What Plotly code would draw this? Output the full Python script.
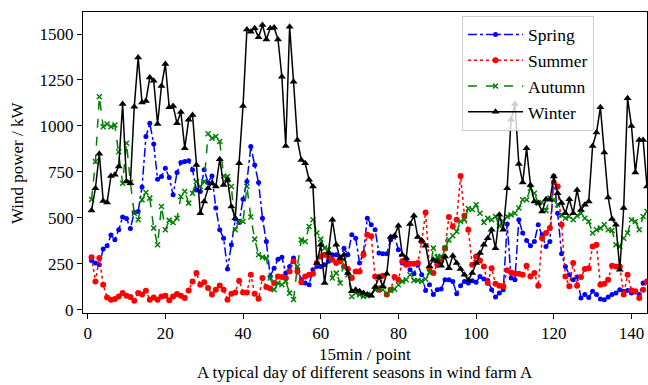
import plotly.graph_objects as go

points = list(range(1, 145))

spring = [268, 254, 245, 330, 348, 406, 380, 435, 504, 496, 442, 529, 534, 667, 942, 1014, 902, 710, 725, 770,
          719, 625, 746, 801, 806, 810, 761, 652, 643, 761, 692, 728, 553, 435, 389, 221, 353, 493, 475, 601,
          697, 888, 788, 692, 498, 371, 181, 226, 275, 286, 199, 235, 281, 221, 163, 145, 136, 217, 235, 235,
          245, 263, 299, 299, 281, 335, 299, 408, 389, 254, 308, 498, 462, 435, 308, 304, 304, 380, 399, 326,
          254, 268, 217, 196, 245, 190, 105, 136, 82, 109, 112, 163, 163, 154, 87, 130, 154, 145, 158, 149,
          181, 167, 159, 109, 69, 91, 109, 467, 172, 163, 489, 417, 377, 348, 371, 462, 408, 344, 371, 728,
          525, 304, 235, 190, 163, 178, 63, 82, 67, 100, 82, 58, 54, 69, 82, 91, 109, 100, 105, 91,
          96, 82, 145, 154]

summer = [286, 154, 281, 136, 67, 54, 58, 72, 91, 76, 69, 49, 91, 82, 103, 54, 67, 54, 72, 76,
          51, 72, 85, 76, 63, 105, 154, 199, 136, 149, 118, 82, 109, 132, 109, 54, 87, 94, 158, 94,
          94, 190, 87, 60, 172, 123, 116, 145, 180, 178, 172, 208, 263, 208, 149, 181, 190, 196, 254, 290,
          299, 290, 272, 254, 263, 235, 221, 172, 208, 208, 299, 408, 399, 181, 109, 185, 82, 109, 178, 163,
          263, 245, 250, 250, 254, 371, 529, 226, 199, 245, 263, 335, 504, 453, 489, 728, 511, 435, 245, 290,
          268, 235, 145, 226, 141, 130, 127, 214, 203, 196, 196, 190, 239, 181, 199, 130, 389, 417, 444, 692,
          670, 462, 181, 127, 254, 130, 178, 221, 226, 344, 353, 136, 141, 163, 239, 235, 235, 82, 190, 105,
          100, 63, 109, 154]

autumn = [600, 806, 1159, 996, 1011, 996, 1005, 860, 688, 906, 692, 525, 489, 598, 638, 607, 444, 353, 562, 435,
          486, 475, 498, 616, 643, 580, 634, 697, 670, 697, 957, 933, 942, 915, 728, 725, 670, 435, 480, 480,
          670, 504, 384, 299, 286, 281, 172, 109, 145, 136, 154, 90, 55, 235, 380, 371, 453, 489, 417, 384,
          335, 326, 172, 199, 145, 272, 190, 72, 91, 82, 72, 76, 82, 109, 118, 109, 87, 105, 112, 136,
          154, 163, 190, 159, 159, 154, 167, 203, 335, 286, 290, 335, 380, 402, 426, 480, 489, 550, 545, 571,
          525, 475, 498, 489, 507, 456, 480, 507, 516, 525, 553, 598, 598, 661, 634, 580, 583, 540, 607, 598,
          571, 516, 498, 507, 489, 511, 525, 498, 480, 417, 435, 444, 462, 435, 431, 353, 344, 389, 417, 489,
          480, 435, 507, 534]

winter = [540, 661, 848, 592, 583, 728, 734, 779, 1120, 697, 688, 1105, 1373, 1127, 1136, 1264, 1246, 1011, 1217, 1337,
          1101, 1109, 1014, 1076, 879, 1033, 1060, 788, 525, 589, 661, 688, 670, 819, 679, 707, 562, 498, 797, 1109,
          1525, 1513, 1531, 1482, 1549, 1471, 1531, 1536, 1471, 1268, 891, 1540, 1241, 924, 815, 797, 707, 670, 254, 353,
          145, 308, 489, 353, 281, 299, 199, 100, 109, 100, 91, 82, 76, 123, 178, 127, 196, 395, 402, 457,
          299, 281, 467, 511, 395, 377, 348, 236, 272, 263, 239, 290, 226, 293, 254, 221, 190, 160, 200, 254,
          308, 353, 389, 435, 335, 516, 435, 661, 1033, 1120, 793, 692, 879, 679, 589, 580, 534, 601, 598, 725,
          634, 580, 525, 601, 525, 652, 543, 571, 589, 891, 964, 1101, 855, 611, 493, 462, 217, 553, 1150, 1000,
          746, 924, 924, 670]

FONT = "Liberation Serif"

fig = go.Figure()
fig.add_trace(go.Scatter(x=points, y=spring, name="Spring", mode="lines+markers",
                         line=dict(color="#0000ff", width=1.5, dash="dashdot"),
                         marker=dict(symbol="circle", size=5, color="#0000ff")))
fig.add_trace(go.Scatter(x=points, y=summer, name="Summer", mode="lines+markers",
                         line=dict(color="#ff0000", width=1.5, dash="dot"),
                         marker=dict(symbol="circle", size=6, color="#ff0000")))
fig.add_trace(go.Scatter(x=points, y=autumn, name="Autumn", mode="lines+markers",
                         line=dict(color="#008000", width=1.5, dash="dash"),
                         marker=dict(symbol="x-thin", size=5, color="#008000",
                                     line=dict(color="#008000", width=1.5))))
fig.add_trace(go.Scatter(x=points, y=winter, name="Winter", mode="lines+markers",
                         line=dict(color="#000000", width=1.5),
                         marker=dict(symbol="triangle-up", size=7, color="#000000")))

axis_common = dict(showline=True, linecolor="black", linewidth=1, mirror=True,
                   ticks="outside", ticklen=5, tickcolor="black", showgrid=False,
                   zeroline=False, tickfont=dict(family=FONT, size=17, color="black"))

fig.update_layout(
    width=648, height=385,
    margin=dict(l=83, r=1, t=12, b=72),
    paper_bgcolor="white", plot_bgcolor="white",
    font=dict(family=FONT, size=17, color="black"),
    xaxis=dict(range=[-1.2, 144], tickvals=[0, 20, 40, 60, 80, 100, 120, 140], **axis_common),
    yaxis=dict(range=[-18, 1620], tickvals=[0, 250, 500, 750, 1000, 1250, 1500], **axis_common),
    legend=dict(x=0.672, y=0.988, xanchor="left", yanchor="top",
                bgcolor="rgba(255,255,255,0.8)", bordercolor="#cccccc", borderwidth=1,
                font=dict(family=FONT, size=17.5, color="black"), tracegroupgap=0,
                itemwidth=55),
    showlegend=True,
    annotations=[
        dict(text="15min / point", xref="paper", yref="paper", x=0.5, y=-0.138,
             xanchor="center", yanchor="middle", showarrow=False,
             font=dict(family=FONT, size=17, color="black")),
        dict(text="A typical day of different seasons in wind farm A", xref="paper", yref="paper",
             x=0.5, y=-0.198, xanchor="center", yanchor="middle", showarrow=False,
             font=dict(family=FONT, size=17, color="black")),
        dict(text="Wind power / kW", xref="paper", yref="paper", x=-0.116, y=0.5,
             xanchor="center", yanchor="middle", textangle=-90, showarrow=False,
             font=dict(family=FONT, size=17, color="black")),
    ],
)

fig.write_html("out.html", config={"displayModeBar": False},
               post_script="document.body.style.margin='0';document.body.style.overflow='hidden';")
